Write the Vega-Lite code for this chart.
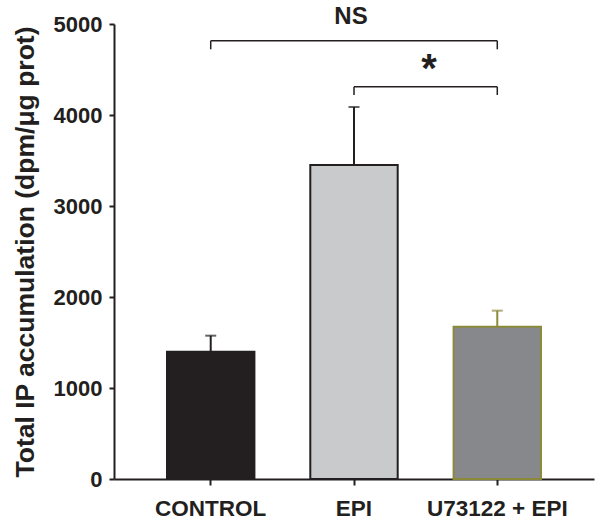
{
  "$schema": "https://vega.github.io/schema/vega-lite/v6.json",
  "width": 480,
  "height": 455,
  "autosize": "none",
  "padding": {"left": 114, "top": 24, "right": 8, "bottom": 47},
  "background": "white",
  "config": {
    "view": {"stroke": null},
    "font": "Liberation Sans"
  },
  "datasets": {
    "bars": [
      {"group": "CONTROL", "mean": 1399, "upper": 1575},
      {"group": "EPI", "mean": 3451, "upper": 4088},
      {"group": "U73122 + EPI", "mean": 1674, "upper": 1850}
    ],
    "brackets": [
      {"label": "NS", "from": "CONTROL", "to": "U73122 + EPI", "level": 4816, "tip": 4722, "mid": "EPI", "labelY": 5080},
      {"label": "*", "from": "EPI", "to": "U73122 + EPI", "level": 4310, "tip": 4220, "mid": "EPI", "labelY": 4720}
    ]
  },
  "layer": [
    {
      "data": {"name": "bars"},
      "mark": {"type": "bar", "strokeWidth": 2},
      "encoding": {
        "x": {
          "field": "group", "type": "nominal", "sort": null,
          "scale": {"paddingInner": 0.39, "paddingOuter": 0.37},
          "axis": {
            "title": null, "labelAngle": 0,
            "labelFont": "Liberation Sans", "labelFontSize": 22.5, "labelFontWeight": "bold",
            "labelColor": "#231f20", "labelPadding": 12,
            "domainColor": "#231f20", "domainWidth": 2,
            "tickColor": "#231f20", "tickWidth": 2, "tickSize": 6
          }
        },
        "y": {
          "field": "mean", "type": "quantitative",
          "scale": {"domain": [0, 5000], "nice": false},
          "axis": {
            "title": "Total IP accumulation (dpm/μg prot)",
            "values": [0, 1000, 2000, 3000, 4000, 5000],
            "format": "d",
            "grid": false,
            "labelFont": "Liberation Sans", "labelFontSize": 22, "labelFontWeight": "bold",
            "labelColor": "#231f20", "labelPadding": 7,
            "titleFont": "Liberation Sans", "titleFontSize": 26.5, "titleFontWeight": "bold",
            "titleColor": "#231f20", "titlePadding": 14,
            "domainColor": "#231f20", "domainWidth": 2,
            "tickColor": "#231f20", "tickWidth": 2, "tickSize": 5
          }
        },
        "fill": {
          "field": "group", "type": "nominal", "legend": null,
          "scale": {"domain": ["CONTROL", "EPI", "U73122 + EPI"], "range": ["#231f20", "#c8cacc", "#87888b"]}
        },
        "stroke": {
          "field": "group", "type": "nominal", "legend": null,
          "scale": {"domain": ["CONTROL", "EPI", "U73122 + EPI"], "range": ["#231f20", "#231f20", "#8b8a3a"]}
        }
      }
    },
    {
      "data": {"name": "bars"},
      "mark": {"type": "rule", "strokeWidth": 2},
      "encoding": {
        "x": {"field": "group", "type": "nominal", "sort": null},
        "y": {"field": "mean", "type": "quantitative"},
        "y2": {"field": "upper"},
        "stroke": {"field": "group", "type": "nominal", "legend": null}
      }
    },
    {
      "data": {"name": "bars"},
      "mark": {"type": "tick", "size": 11, "thickness": 2},
      "encoding": {
        "x": {"field": "group", "type": "nominal", "sort": null},
        "y": {"field": "upper", "type": "quantitative"},
        "color": {"field": "group", "type": "nominal", "legend": null,
          "scale": {"domain": ["CONTROL", "EPI", "U73122 + EPI"], "range": ["#231f20", "#231f20", "#8b8a3a"]}}
      }
    },
    {
      "data": {"name": "brackets"},
      "mark": {"type": "rule", "strokeWidth": 1.5, "color": "#231f20"},
      "encoding": {
        "x": {"field": "from", "type": "nominal", "sort": null},
        "x2": {"field": "to"},
        "y": {"field": "level", "type": "quantitative"}
      }
    },
    {
      "data": {"name": "brackets"},
      "mark": {"type": "rule", "strokeWidth": 1.5, "color": "#231f20"},
      "encoding": {
        "x": {"field": "from", "type": "nominal", "sort": null},
        "y": {"field": "level", "type": "quantitative"},
        "y2": {"field": "tip"}
      }
    },
    {
      "data": {"name": "brackets"},
      "mark": {"type": "rule", "strokeWidth": 1.5, "color": "#231f20"},
      "encoding": {
        "x": {"field": "to", "type": "nominal", "sort": null},
        "y": {"field": "level", "type": "quantitative"},
        "y2": {"field": "tip"}
      }
    },
    {
      "data": {"name": "brackets"},
      "transform": [{"filter": "datum.label == 'NS'"}],
      "mark": {"type": "text", "font": "Liberation Sans", "fontSize": 24, "fontWeight": "bold", "color": "#231f20", "baseline": "middle", "dx": -3},
      "encoding": {
        "x": {"field": "mid", "type": "nominal", "sort": null},
        "y": {"field": "labelY", "type": "quantitative"},
        "text": {"field": "label"}
      }
    },
    {
      "data": {"name": "brackets"},
      "transform": [{"filter": "datum.label == '*'"}],
      "mark": {"type": "text", "font": "Liberation Sans", "fontSize": 40, "fontWeight": "bold", "color": "#231f20", "baseline": "middle", "dx": 75, "dy": 21},
      "encoding": {
        "x": {"field": "mid", "type": "nominal", "sort": null},
        "y": {"field": "labelY", "type": "quantitative"},
        "text": {"field": "label"}
      }
    }
  ]
}
